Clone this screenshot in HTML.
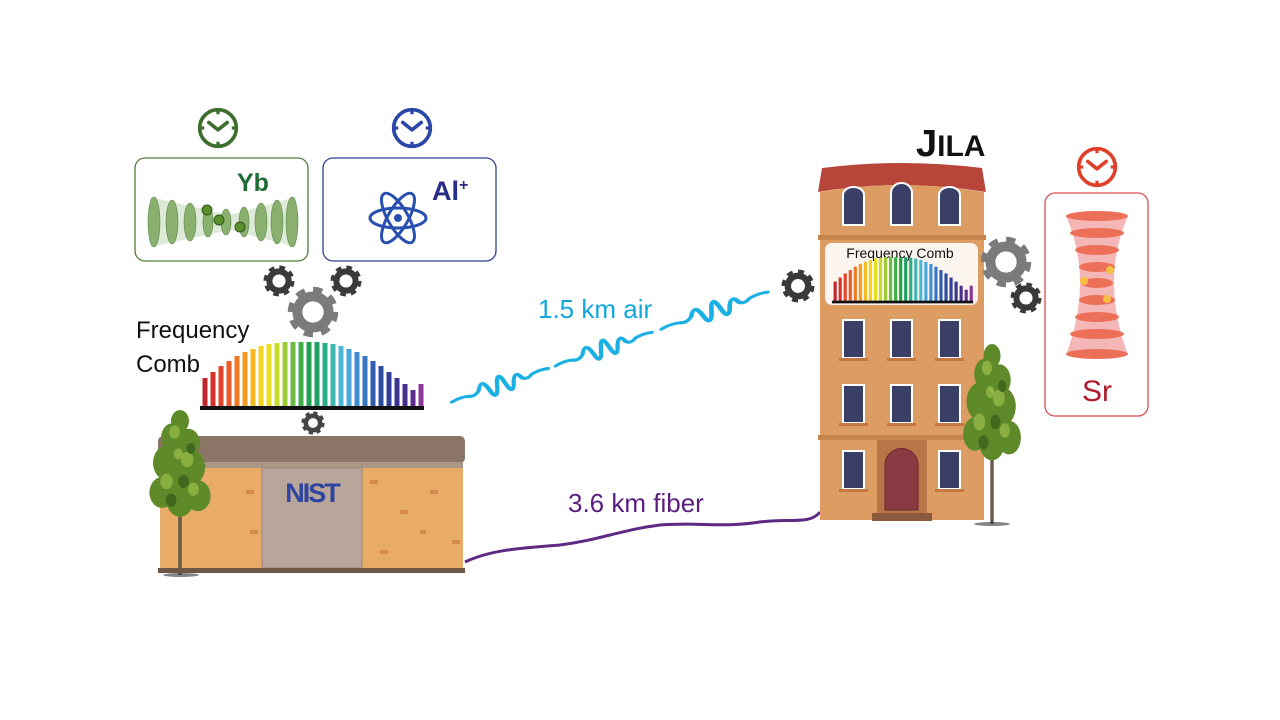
<!DOCTYPE html>
<html><head><meta charset="utf-8"><style>
html,body{margin:0;padding:0;background:#fff;}
svg{display:block;font-family:"Liberation Sans",sans-serif;}
</style></head><body>
<svg width="1280" height="720" viewBox="0 0 1280 720" xmlns="http://www.w3.org/2000/svg">
<defs>
<symbol id="gear" viewBox="-10 -10 20 20" overflow="visible">
<circle r="6" fill="none" stroke="currentColor" stroke-width="3.8"/>
<circle r="8" fill="none" stroke="currentColor" stroke-width="3.4" stroke-dasharray="3.3 2.98"/>
</symbol>
<symbol id="clock" viewBox="-12 -12 24 24" overflow="visible">
<circle r="10" fill="none" stroke="currentColor" stroke-width="2"/>
<path d="M0 -10V-7.5M0 10V7.5M-10 0H-7.5M10 0H7.5" stroke="currentColor" stroke-width="1.8"/>
<path d="M-5 -3L0 1L5 -3" fill="none" stroke="currentColor" stroke-width="2" stroke-linecap="round" stroke-linejoin="round"/>
</symbol>
<g id="comb">
<g stroke-width="5">
<line x1="205" y1="408" x2="205" y2="378" stroke="#c0272d"/>
<line x1="213" y1="408" x2="213" y2="372" stroke="#d7322a"/>
<line x1="221" y1="408" x2="221" y2="366" stroke="#e4452a"/>
<line x1="229" y1="408" x2="229" y2="361" stroke="#ec5a28"/>
<line x1="237" y1="408" x2="237" y2="356" stroke="#f07a24"/>
<line x1="245" y1="408" x2="245" y2="352" stroke="#f59a20"/>
<line x1="253" y1="408" x2="253" y2="349" stroke="#f8b81e"/>
<line x1="261" y1="408" x2="261" y2="346" stroke="#f7d21e"/>
<line x1="269" y1="408" x2="269" y2="344" stroke="#e8e01e"/>
<line x1="277" y1="408" x2="277" y2="343" stroke="#c8dc2a"/>
<line x1="285" y1="408" x2="285" y2="342" stroke="#9ccd36"/>
<line x1="293" y1="408" x2="293" y2="342" stroke="#6dbd44"/>
<line x1="301" y1="408" x2="301" y2="342" stroke="#3fae4a"/>
<line x1="309" y1="408" x2="309" y2="342" stroke="#22a04e"/>
<line x1="317" y1="408" x2="317" y2="342" stroke="#1ea067"/>
<line x1="325" y1="408" x2="325" y2="343" stroke="#2aae8c"/>
<line x1="333" y1="408" x2="333" y2="344" stroke="#3fb8b0"/>
<line x1="341" y1="408" x2="341" y2="346" stroke="#4ab8d4"/>
<line x1="349" y1="408" x2="349" y2="349" stroke="#4aa5dc"/>
<line x1="357" y1="408" x2="357" y2="352" stroke="#3f8ed4"/>
<line x1="365" y1="408" x2="365" y2="356" stroke="#3676c4"/>
<line x1="373" y1="408" x2="373" y2="361" stroke="#2f5cb0"/>
<line x1="381" y1="408" x2="381" y2="366" stroke="#2c4ca0"/>
<line x1="389" y1="408" x2="389" y2="372" stroke="#30409a"/>
<line x1="397" y1="408" x2="397" y2="378" stroke="#3a3590"/>
<line x1="405" y1="408" x2="405" y2="384" stroke="#4a2e8c"/>
<line x1="413" y1="408" x2="413" y2="390" stroke="#5e2d8e"/>
<line x1="421" y1="408" x2="421" y2="384" stroke="#8a3a96"/>
</g>
<rect x="200" y="406" width="224" height="4" fill="#111"/>
</g>
<path id="packet" d="M0 0 Q6 -2 12 0 Q16 3 20 -2 Q24 -14 27 0 Q30 16 33 0 Q36 -18 39 0 Q42 16 45 0 Q48 -10 51 0 Q54 4 58 0 Q64 -2 70 0" fill="none" stroke="#1ab0e4" stroke-width="3" stroke-linecap="round"/>
<g id="tree">
<rect x="-2" y="20" width="4" height="70" fill="#6a5a48"/>
<g fill="#5f8a2a">
<circle cx="0" cy="-50" r="10"/><circle cx="-8" cy="-35" r="13"/><circle cx="9" cy="-30" r="13"/>
<circle cx="-14" cy="-12" r="16"/><circle cx="12" cy="-8" r="16"/><circle cx="0" cy="0" r="18"/>
<circle cx="-20" cy="15" r="14"/><circle cx="20" cy="18" r="14"/><circle cx="0" cy="22" r="15"/>
</g>
<g fill="#9cc04a" opacity="0.7">
<circle cx="-6" cy="-40" r="6"/><circle cx="8" cy="-15" r="7"/><circle cx="-15" cy="5" r="7"/><circle cx="15" cy="12" r="6"/><circle cx="-2" cy="-20" r="5"/>
</g>
<g fill="#2f5216" opacity="0.6">
<circle cx="4" cy="5" r="6"/><circle cx="-10" cy="22" r="6"/><circle cx="12" cy="-25" r="5"/>
</g>
</g>
</defs>

<use href="#clock" x="196" y="106" width="44" height="44" color="#3d6e2e"/>
<use href="#clock" x="390" y="106" width="44" height="44" color="#2a46a6"/>
<rect x="135" y="158" width="173" height="103" rx="10" fill="#fff" stroke="#4f7d3c" stroke-width="1.3"/>
<rect x="323" y="158" width="173" height="103" rx="10" fill="#fff" stroke="#2e3f94" stroke-width="1.3"/>
<text x="237" y="191" font-size="25" font-weight="bold" fill="#1f6b36">Yb</text>
<path d="M150 197 L230 215 L296 197 L296 247 L230 230 L150 247Z" fill="#d6e4ce" opacity="0.8"/>
<g fill="#8ab070" stroke="#5a8a44" stroke-width="0.6">
<ellipse cx="154" cy="222" rx="6" ry="25"/><ellipse cx="172" cy="222" rx="6" ry="22"/><ellipse cx="190" cy="222" rx="6" ry="19"/>
<ellipse cx="208" cy="222" rx="5" ry="15"/><ellipse cx="226" cy="222" rx="5" ry="13"/><ellipse cx="244" cy="222" rx="5" ry="15"/>
<ellipse cx="261" cy="222" rx="6" ry="19"/><ellipse cx="277" cy="222" rx="6" ry="22"/><ellipse cx="292" cy="222" rx="6" ry="25"/>
</g>
<g fill="#5c8f2e" stroke="#2f5a1a" stroke-width="1"><circle cx="207" cy="210" r="5"/><circle cx="219" cy="220" r="5"/><circle cx="240" cy="227" r="5"/></g>
<g fill="none" stroke="#2750b0" stroke-width="3">
<ellipse cx="398" cy="218" rx="28" ry="10"/>
<ellipse cx="398" cy="218" rx="28" ry="10" transform="rotate(60 398 218)"/>
<ellipse cx="398" cy="218" rx="28" ry="10" transform="rotate(-60 398 218)"/>
</g>
<circle cx="398" cy="218" r="4" fill="#2750b0"/>
<text x="432" y="200" font-size="27" font-weight="bold" fill="#2a2c86">Al<tspan font-size="16" dy="-10">+</tspan></text>

<use href="#gear" x="263" y="265" width="32" height="32" color="#3a3a3a"/>
<use href="#gear" x="330" y="265" width="32" height="32" color="#3a3a3a"/>
<use href="#gear" x="287" y="286" width="52" height="52" color="#7b7b7b"/>
<use href="#gear" x="301" y="411" width="24" height="24" color="#444"/>

<text x="136" y="338" font-size="24" fill="#111">Frequency</text>
<text x="136" y="372" font-size="24" fill="#111">Comb</text>
<use href="#comb"/>

<rect x="158" y="436" width="307" height="27" rx="5" fill="#8a7566"/>
<rect x="160" y="462" width="303" height="6" fill="#ac9686"/>
<rect x="160" y="468" width="303" height="100" fill="#e9ac68"/>
<g fill="#d48a4e"><rect x="170" y="476" width="8" height="4"/><rect x="246" y="490" width="8" height="4"/><rect x="370" y="480" width="8" height="4"/><rect x="400" y="510" width="8" height="4"/><rect x="430" y="490" width="8" height="4"/><rect x="452" y="540" width="8" height="4"/><rect x="380" y="550" width="8" height="4"/><rect x="250" y="530" width="8" height="4"/><rect x="420" y="530" width="6" height="4"/></g>
<rect x="262" y="468" width="100" height="100" fill="#b9a69b" stroke="#9a8478" stroke-width="1"/>
<text x="312" y="502" font-size="27" font-weight="bold" fill="#2d45a0" text-anchor="middle" letter-spacing="-2">NIST</text>
<rect x="158" y="568" width="307" height="5" fill="#6e5548"/>
<use href="#tree" transform="translate(180 476) scale(0.9 1.1)"/>
<ellipse cx="181" cy="575" rx="18" ry="2" fill="#333" opacity="0.6"/>

<g transform="translate(452 402) rotate(-19.2)">
<use href="#packet" transform="scale(1.45 1)"/>
<use href="#packet" transform="translate(110 0) scale(1.45 1)"/>
<use href="#packet" transform="translate(222 0) scale(1.6 1)"/>
</g>
<text x="538" y="318" font-size="26" fill="#12a6dc">1.5 km air</text>

<path d="M465 562 C490 550 520 548 560 545 C600 540 620 530 660 525 C700 522 720 528 760 522 C790 518 810 525 820 512" fill="none" stroke="#5e2a84" stroke-width="3"/>
<text x="568" y="512" font-size="26" fill="#5a2080">3.6 km fiber</text>

<text x="916" y="156" font-size="30" font-weight="bold" fill="#111"><tspan font-size="38">J</tspan>ILA</text>
<path d="M818 192 L822 168 Q900 158 982 168 L986 192 Q900 178 818 192Z" fill="#b8453a"/>
<path d="M820 192 Q900 178 984 192 L984 520 L820 520Z" fill="#dd9d62"/>
<rect x="818" y="235" width="168" height="5" fill="#c98550"/>
<rect x="818" y="435" width="168" height="5" fill="#c98550"/>
<g fill="#3a3f68" stroke="#fff" stroke-width="2">
<path d="M843 225 V195 A10.5 8 0 0 1 864 195 V225Z"/><path d="M891 225 V193 A10.5 10 0 0 1 912 193 V225Z"/><path d="M939 225 V195 A10.5 8 0 0 1 960 195 V225Z"/>
<rect x="843" y="320" width="21" height="38"/><rect x="891" y="320" width="21" height="38"/><rect x="939" y="320" width="21" height="38"/>
<rect x="843" y="385" width="21" height="38"/><rect x="891" y="385" width="21" height="38"/><rect x="939" y="385" width="21" height="38"/>
<rect x="843" y="451" width="21" height="38"/><rect x="939" y="451" width="21" height="38"/>
</g>
<g fill="#c27840">
<rect x="839" y="358" width="29" height="3"/><rect x="887" y="358" width="29" height="3"/><rect x="935" y="358" width="29" height="3"/>
<rect x="839" y="423" width="29" height="3"/><rect x="887" y="423" width="29" height="3"/><rect x="935" y="423" width="29" height="3"/>
<rect x="839" y="489" width="29" height="3"/><rect x="935" y="489" width="29" height="3"/>
</g>
<rect x="877" y="440" width="50" height="80" fill="#b77548"/>
<path d="M885 510 L885 465 A16 16 0 0 1 918 465 L918 510Z" fill="#8a3a42" stroke="#6a2a30"/>
<rect x="872" y="513" width="60" height="8" fill="#8a5a3a"/>
<rect x="825" y="243" width="153" height="62" rx="7" fill="#fff" opacity="0.9"/>
<text x="900" y="258" font-size="14" fill="#111" text-anchor="middle">Frequency Comb</text>
<use href="#comb" transform="translate(832 302) scale(0.63 0.68) translate(-200 -408)"/>
<use href="#gear" x="781" y="269" width="34" height="34" color="#3a3a3a"/>
<use href="#gear" x="980" y="236" width="52" height="52" color="#7b7b7b"/>
<use href="#gear" x="1010" y="282" width="32" height="32" color="#3a3a3a"/>
<use href="#tree" transform="translate(992 416) scale(0.85 1.2)"/>
<ellipse cx="992" cy="524" rx="18" ry="2" fill="#333" opacity="0.6"/>

<use href="#clock" x="1075" y="145" width="44" height="44" color="#e0402a"/>
<rect x="1045" y="193" width="103" height="223" rx="10" fill="#fff" stroke="#d85050" stroke-width="1.3"/>
<path d="M1066 216 L1128 216 Q1100 280 1128 355 L1066 355 Q1094 280 1066 216Z" fill="#f4b6b6"/>
<g fill="#ec7058">
<ellipse cx="1097" cy="216" rx="31" ry="5"/><ellipse cx="1097" cy="233" rx="27" ry="5"/><ellipse cx="1097" cy="250" rx="22" ry="5"/>
<ellipse cx="1097" cy="267" rx="18" ry="5"/><ellipse cx="1097" cy="283" rx="16" ry="5"/><ellipse cx="1097" cy="300" rx="18" ry="5"/>
<ellipse cx="1097" cy="317" rx="22" ry="5"/><ellipse cx="1097" cy="334" rx="27" ry="5"/><ellipse cx="1097" cy="354" rx="31" ry="5"/>
</g>
<g fill="#f7c040"><circle cx="1110" cy="270" r="4"/><circle cx="1084" cy="281" r="4"/><circle cx="1107" cy="299" r="4"/></g>
<text x="1097" y="401" font-size="30" fill="#b01c2a" text-anchor="middle">Sr</text>
</svg>
</body></html>
